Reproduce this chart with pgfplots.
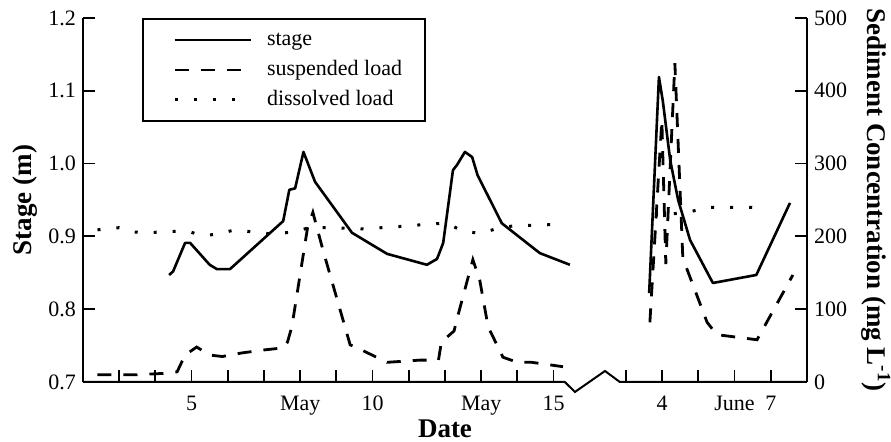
\documentclass[border=0pt]{standalone}
\usepackage{fontspec}
\setmainfont{Liberation Serif}
\usepackage{pgfplots}
\pgfplotsset{compat=1.18}

\pgfplotsset{
  twin/.style={
    width=362pt, height=182pt, scale only axis,
    xmin=2, xmax=22, clip=false,
    tick align=inside, major tick length=6pt,
    tick style={black, line width=0.9pt},
    axis line style={-, line width=1pt},
    label style={font=\fontsize{13.5}{16}\selectfont\bfseries},
    unbounded coords=jump,
  },
  stagestyle/.style={black, line width=1.3pt, line join=round},
  suspstyle/.style={black, line width=1.4pt, dash pattern=on 7pt off 6pt},
  dissstyle/.style={black, line width=1.5pt, dash pattern=on 1.5pt off 8pt},
}

\begin{document}
\begin{tikzpicture}[font=\fontsize{11}{13}\selectfont]

% stage, left axis
\begin{axis}[twin,
  ymin=0.7, ymax=1.2,
  axis x line*=bottom, axis y line*=left,
  x axis line style={draw=none},
  xtick={3,4,5,6,7,8,9,10,11,12,13,14,15,17,18,19,20,21},
  xticklabels={,,5,,,May,,10,,,May,,15,,4,,June,7},
  xticklabel style={yshift=-3.5pt},
  ytick={0.7,0.8,0.9,1.0,1.1,1.2},
  yticklabels={0.7,0.8,0.9,1.0,1.1,1.2},
  xlabel={Date},
  ylabel={Stage (m)},
  xlabel style={at={([yshift=-23.5pt]rel axis cs:0.5,0)}, anchor=center},
  ylabel style={at={([xshift=-29pt]rel axis cs:0,0.5)}, anchor=center},
]
\addplot[stagestyle] coordinates {
  (4.38,0.847) (4.49,0.852) (4.82,0.891) (4.96,0.891) (5.5,0.861) (5.7,0.855)
  (6.06,0.855) (7.53,0.921) (7.7,0.964) (7.86,0.966) (8.09,1.016) (8.41,0.975)
  (9.43,0.905) (10.4,0.876) (11.5,0.861) (11.78,0.869) (11.95,0.891) (12.22,0.991)
  (12.33,0.998) (12.55,1.016) (12.75,1.009) (12.9,0.984) (13.57,0.918) (14.62,0.877)
  (15.45,0.861)
  (16.5,nan)
  (17.64,0.822) (17.91,1.119) (18.02,1.085) (18.22,1.005) (18.44,0.95) (18.77,0.895)
  (19.4,0.836) (20.6,0.847) (21.53,0.946)
};
% bottom axis line with the break
\draw[line width=1pt, line join=miter] (axis cs:2,0.7) -- (axis cs:15.31,0.7)
  -- (axis cs:15.59,0.6863) -- (axis cs:16.42,0.7151) -- (axis cs:16.83,0.7) -- (axis cs:22,0.7);
\coordinate (SW) at (rel axis cs:0,0);
\coordinate (NE) at (rel axis cs:1,1);
\end{axis}

% sediment, right axis
\begin{axis}[twin,
  ymin=0, ymax=500,
  axis y line*=right, axis x line=none,
  ytick={0,100,200,300,400,500},
  yticklabels={0,100,200,300,400,500},
  ylabel={Sediment Concentration (mg L\textsuperscript{-1})},
  ylabel style={at={([xshift=34.5pt]rel axis cs:1,0.5)}, anchor=center, rotate=180},
  legend image code/.code={\path (-5pt,0pt); \draw[#1] (0pt,0pt) -- (38pt,0pt);},
  legend cell align=left,
  legend style={at={(rel axis cs:0.0815,1)}, anchor=north west,
    draw=black, line width=1pt, fill=white,
    inner xsep=10pt, inner ysep=4pt, row sep=2pt, column sep=6pt,
    nodes={inner sep=1.5pt, text height=7.6pt, text depth=2.4pt},
    font=\fontsize{11}{13}\selectfont},
]
\addlegendimage{stagestyle}
\addlegendentry{stage}

\addplot[suspstyle] coordinates {
  (2.4,10) (3.5,10) (4.3,12) (4.6,14) (4.82,37) (5.14,48) (5.5,37) (5.85,35)
  (6.4,40) (7.0,44) (7.55,47) (7.65,55) (7.77,76) (8.2,211) (8.35,233) (8.63,181)
  (9.38,51) (9.57,47) (10.4,27) (11.3,30) (11.82,30) (11.9,55) (12.25,70) (12.35,90)
  (12.77,168) (12.96,140) (13.19,76) (13.6,34) (14.0,27) (14.4,27) (15.26,21)
  (16.5,nan)
  (17.66,82) (17.99,360) (18.1,162) (18.35,438) (18.57,170) (19.24,82) (19.51,65)
  (20.62,58) (21.61,147)
};
\addlegendentry{suspended load}

\addplot[dissstyle] coordinates {
  (2.4,209) (3.0,212) (3.4,206) (3.8,205) (4.4,207) (4.9,207) (5.3,201) (5.7,203)
  (6.2,209) (6.7,206) (7.25,203) (7.77,206) (8.27,212) (8.77,212) (9.87,210)
  (10.43,213) (10.98,214) (11.5,217) (12.06,218) (12.5,207) (13.0,204) (13.5,212)
  (14.0,215) (14.58,215) (15.1,217)
  (16.5,nan)
  (17.8,230) (18.0,229) (18.77,234) (19.32,240) (20.4,240) (20.92,239)
};
\addlegendentry{dissolved load}
\end{axis}

\pgfresetboundingbox
\path[use as bounding box] ([shift={(-41.5pt,-30pt)}]SW) rectangle ([shift={(42pt,9pt)}]NE);
\end{tikzpicture}
\end{document}
